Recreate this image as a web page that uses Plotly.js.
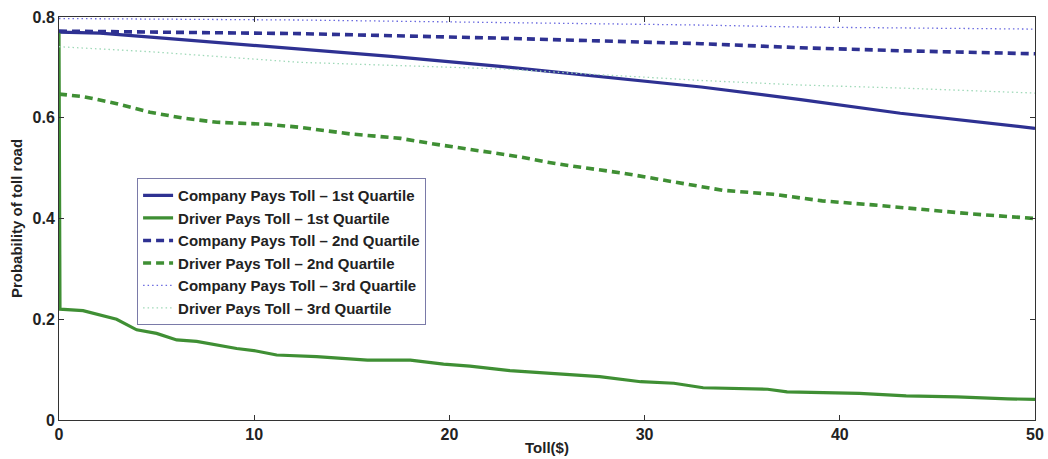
<!DOCTYPE html>
<html>
<head>
<meta charset="utf-8">
<script src="https://cdn.plot.ly/plotly-3.0.1.min.js"></script>
<style>html,body{margin:0;padding:0;background:#fff;}#chart{width:1048px;height:459px;}</style>
</head>
<body>
<div id="chart"></div>
<script>
// Toll ($) sample points and probabilities
const companyQ1Toll = [0, 2.1, 4.7, 8, 12.35, 17, 22.6, 27.7, 32.9, 38, 43.1, 50];
const companyQ1 = [0.770, 0.768, 0.760, 0.750, 0.737, 0.722, 0.702, 0.682, 0.661, 0.636, 0.609, 0.579];

const driverQ1Toll = [0, 0.05, 1.23, 2.95, 3.98, 5.0, 6.03, 7.05, 9.1, 10.1, 11.15, 13.2, 15.8, 18.0, 19.7, 21.05, 23.1, 25.15, 27.7, 29.8, 31.5, 33.0, 36.3, 37.3, 41.0, 43.4, 46.0, 48.6, 50];
const driverQ1 = [0.770, 0.220, 0.217, 0.200, 0.179, 0.172, 0.159, 0.156, 0.142, 0.137, 0.129, 0.126, 0.119, 0.119, 0.111, 0.107, 0.098, 0.093, 0.086, 0.076, 0.073, 0.064, 0.061, 0.056, 0.053, 0.048, 0.046, 0.042, 0.041];

const companyQ2Toll = [0, 12.35, 22.6, 32.9, 38, 43.1, 50];
const companyQ2 = [0.772, 0.767, 0.758, 0.747, 0.739, 0.733, 0.727];

const driverQ2Toll = [0, 1.23, 2.97, 4.66, 6.4, 8.1, 10.66, 12.35, 14.9, 17.5, 19.2, 20.9, 23.5, 25.0, 26.3, 28.9, 31.5, 34.0, 36.6, 39.1, 41.7, 44.3, 46.8, 50];
const driverQ2 = [0.647, 0.642, 0.628, 0.611, 0.599, 0.591, 0.587, 0.581, 0.568, 0.559, 0.548, 0.538, 0.523, 0.512, 0.504, 0.490, 0.473, 0.456, 0.448, 0.435, 0.427, 0.417, 0.409, 0.400];

const companyQ3Toll = [0, 10, 12.35, 22.6, 32.9, 38, 50];
const companyQ3 = [0.797, 0.795, 0.794, 0.789, 0.784, 0.780, 0.776];

const driverQ3Toll = [0, 4.7, 12.35, 22.6, 32.9, 38, 43.1, 50];
const driverQ3 = [0.741, 0.731, 0.710, 0.697, 0.674, 0.665, 0.659, 0.649];

const seriesNames = [
  'Company Pays Toll – 1st Quartile',
  'Driver Pays Toll – 1st Quartile',
  'Company Pays Toll – 2nd Quartile',
  'Driver Pays Toll – 2nd Quartile',
  'Company Pays Toll – 3rd Quartile',
  'Driver Pays Toll – 3rd Quartile'
];
const xTicks = [0, 10, 20, 30, 40, 50];
const yTicks = [0, 0.2, 0.4, 0.6, 0.8];
const yTickText = ['0', '0.2', '0.4', '0.6', '0.8'];

const blue = '#2e3192';
const green = '#3f8f34';

const traces = [
  {x: companyQ1Toll, y: companyQ1, name: seriesNames[0], mode: 'lines', line: {color: blue, width: 3.2}},
  {x: driverQ1Toll, y: driverQ1, name: seriesNames[1], mode: 'lines', line: {color: green, width: 3.2}},
  {x: companyQ2Toll, y: companyQ2, name: seriesNames[2], mode: 'lines', line: {color: blue, width: 3.6, dash: '8px,5px'}},
  {x: driverQ2Toll, y: driverQ2, name: seriesNames[3], mode: 'lines', line: {color: green, width: 3.6, dash: '8px,5px'}},
  {x: companyQ3Toll, y: companyQ3, name: seriesNames[4], mode: 'lines', line: {color: '#6b6be0', width: 1.3, dash: '1.5px,3px'}},
  {x: driverQ3Toll, y: driverQ3, name: seriesNames[5], mode: 'lines', line: {color: '#9fd9b8', width: 1.3, dash: '1.5px,3px'}}
];

const fontFam = '"Liberation Sans", Arial, Helvetica, sans-serif';
const layout = {
  width: 1048, height: 459,
  margin: {l: 59, r: 13, t: 17, b: 39, pad: 0},
  paper_bgcolor: '#fff', plot_bgcolor: '#fff',
  font: {family: fontFam, color: '#222'},
  showlegend: true,
  legend: {
    x: 0.08, y: 0.6, xanchor: 'left', yanchor: 'top',
    bgcolor: '#fff', bordercolor: '#7a7aa8', borderwidth: 1,
    font: {family: fontFam, size: 15, color: '#222', weight: 'bold'},
    tracegroupgap: 0
  },
  xaxis: {
    range: [0, 50], tickvals: xTicks, ticks: 'inside', ticklen: 5, tickcolor: '#333',
    showline: true, linecolor: '#333', linewidth: 1, mirror: 'ticks', showgrid: false, zeroline: false,
    tickfont: {family: fontFam, size: 16, weight: 'bold', color: '#222'},
    title: {text: 'Toll($)', font: {family: fontFam, size: 15, weight: 'bold', color: '#222'}, standoff: 0}
  },
  yaxis: {
    range: [0, 0.8], tickvals: yTicks, ticktext: yTickText, ticks: 'inside', ticklen: 5, tickcolor: '#333',
    showline: true, linecolor: '#333', linewidth: 1, mirror: 'ticks', showgrid: false, zeroline: false,
    tickfont: {family: fontFam, size: 16, weight: 'bold', color: '#222'},
    title: {text: 'Probability of toll road', font: {family: fontFam, size: 15, weight: 'bold', color: '#222'}, standoff: 6}
  }
};

Plotly.newPlot('chart', traces, layout, {displayModeBar: false, staticPlot: true});
</script>
</body>
</html>
